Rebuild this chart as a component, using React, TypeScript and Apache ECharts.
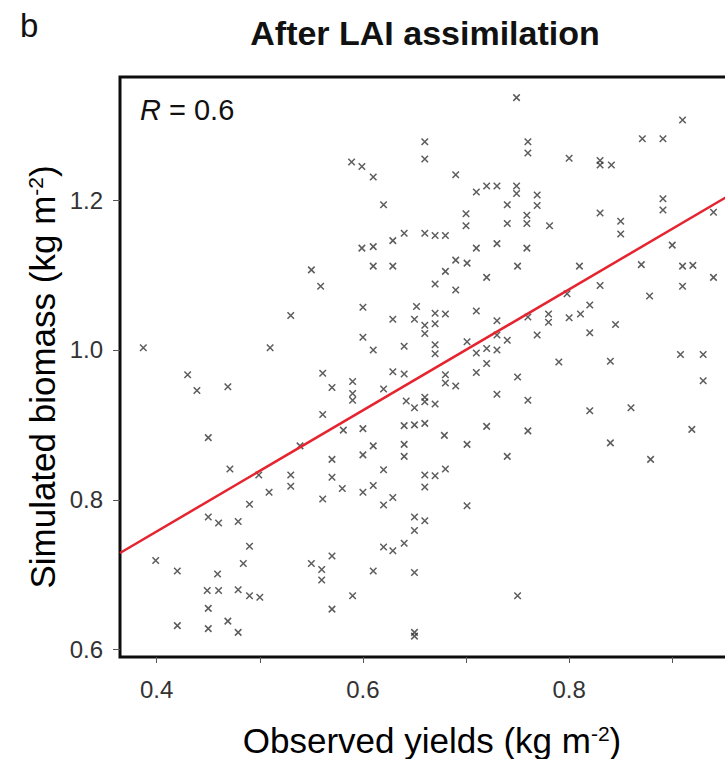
import React, { useEffect, useRef } from "react";
import * as echarts from "echarts";

const OBSERVED_YIELDS = [
  0.550, 0.559, 0.530, 0.387, 0.510,
  0.749, 0.660, 0.660, 0.760, 0.760,
  0.589, 0.599, 0.610, 0.690, 0.710,
  0.720, 0.730, 0.749, 0.749, 0.620,
  0.740, 0.700, 0.700, 0.740, 0.759,
  0.759, 0.629, 0.640, 0.660, 0.670,
  0.680, 0.599, 0.610, 0.710, 0.730,
  0.759, 0.610, 0.629, 0.690, 0.701,
  0.750, 0.680, 0.720, 0.670, 0.690,
  0.600, 0.652, 0.670, 0.680, 0.710,
  0.629, 0.650, 0.660, 0.670, 0.730,
  0.660, 0.600, 0.610, 0.640, 0.670,
  0.670, 0.701, 0.730, 0.740, 0.710,
  0.720, 0.730, 0.720,
  0.910, 0.871, 0.891, 0.800, 0.830,
  0.830, 0.841, 0.769, 0.769, 0.891,
  0.891, 0.940, 0.830, 0.781, 0.850,
  0.850, 0.900, 0.810, 0.870, 0.910,
  0.920, 0.940, 0.910, 0.830, 0.878,
  0.820, 0.800, 0.811, 0.780, 0.780,
  0.820, 0.845, 0.769, 0.790, 0.840,
  0.908, 0.930,
  0.430, 0.439, 0.469, 0.561, 0.561,
  0.450, 0.471, 0.530, 0.530, 0.509,
  0.490, 0.561, 0.450, 0.460, 0.479,
  0.490, 0.399, 0.420, 0.484, 0.459,
  0.550, 0.560, 0.560, 0.449, 0.460,
  0.479, 0.490, 0.500, 0.450, 0.420,
  0.450, 0.469, 0.479,
  0.629, 0.640, 0.680, 0.680, 0.690,
  0.710, 0.750, 0.730, 0.760, 0.570,
  0.590, 0.590, 0.590, 0.620, 0.642,
  0.650, 0.660, 0.660, 0.670, 0.581,
  0.600, 0.640, 0.650, 0.660, 0.679,
  0.701, 0.720, 0.760, 0.740, 0.610,
  0.600, 0.640, 0.640, 0.570, 0.620,
  0.570, 0.580, 0.600, 0.610, 0.660,
  0.670, 0.680, 0.660, 0.620, 0.629,
  0.701, 0.650, 0.660, 0.650, 0.620,
  0.629, 0.640, 0.570, 0.610, 0.650,
  0.590, 0.570, 0.750, 0.650, 0.650,
  0.930, 0.820, 0.860, 0.919, 0.840,
  0.879, 0.539, 0.499, 0.798, 0.760,
];

const SIMULATED_BIOMASS = [
  1.107, 1.085, 1.046, 1.003, 1.003,
  1.337, 1.278, 1.255, 1.278, 1.263,
  1.251, 1.245, 1.231, 1.234, 1.211,
  1.219, 1.219, 1.219, 1.209, 1.194,
  1.194, 1.182, 1.166, 1.169, 1.180,
  1.169, 1.146, 1.156, 1.156, 1.153,
  1.153, 1.136, 1.138, 1.136, 1.142,
  1.136, 1.112, 1.112, 1.120, 1.116,
  1.112, 1.105, 1.097, 1.088, 1.080,
  1.057, 1.058, 1.049, 1.048, 1.052,
  1.041, 1.041, 1.033, 1.035, 1.039,
  1.022, 1.017, 1.000, 1.005, 1.007,
  0.995, 1.011, 1.020, 1.013, 0.996,
  1.002, 1.000, 0.982,
  1.307, 1.282, 1.282, 1.256, 1.253,
  1.247, 1.247, 1.207, 1.193, 1.202,
  1.187, 1.184, 1.183, 1.166, 1.172,
  1.155, 1.140, 1.112, 1.114, 1.112,
  1.113, 1.097, 1.085, 1.086, 1.072,
  1.060, 1.043, 1.048, 1.048, 1.037,
  1.023, 1.034, 1.020, 0.984, 0.985,
  0.994, 0.994,
  0.967, 0.946, 0.951, 0.969, 0.914,
  0.883, 0.841, 0.833, 0.818, 0.810,
  0.794, 0.801, 0.777, 0.769, 0.771,
  0.738, 0.719, 0.705, 0.715, 0.701,
  0.715, 0.707, 0.693, 0.679, 0.679,
  0.680, 0.672, 0.670, 0.655, 0.632,
  0.628, 0.638, 0.623,
  0.971, 0.968, 0.967, 0.956, 0.952,
  0.970, 0.964, 0.941, 0.933, 0.950,
  0.958, 0.942, 0.933, 0.948, 0.932,
  0.923, 0.937, 0.931, 0.928, 0.893,
  0.895, 0.899, 0.900, 0.902, 0.886,
  0.874, 0.898, 0.892, 0.858, 0.872,
  0.860, 0.874, 0.858, 0.854, 0.840,
  0.830, 0.815, 0.810, 0.819, 0.833,
  0.832, 0.841, 0.817, 0.793, 0.803,
  0.792, 0.777, 0.772, 0.759, 0.737,
  0.732, 0.742, 0.725, 0.705, 0.703,
  0.672, 0.654, 0.672, 0.623, 0.618,
  0.959, 0.919, 0.923, 0.894, 0.876,
  0.854, 0.872, 0.833, 1.075, 1.044,
];

// Fitted regression line (end points)
const FIT_X = [0.3644, 0.9696];
const FIT_Y = [0.729, 1.218];

const X_TICKS = [0.4, 0.5, 0.6, 0.7, 0.8, 0.9];
const X_LABELS = [0.4, 0.6, 0.8];
const Y_TICKS = [0.6, 0.8, 1.0, 1.2];
const Y_LABELS = [0.6, 0.8, 1.0, 1.2];

const X_RANGE = [0.3644, 0.9696];
const Y_RANGE = [0.5901, 1.3645];

const PANEL_LETTER = "b";
const TITLE = "After LAI assimilation";
const R_LABEL_ITALIC = "R";
const R_LABEL_REST = " = 0.6";
const X_NAME = ["Observed yields (kg m", "-2", ")"];
const Y_NAME = ["Simulated biomass (kg m", "-2", ")"];

const FONT = "'Liberation Sans', Arial, Helvetica, sans-serif";

export default function App() {
  const ref = useRef<HTMLDivElement>(null);

  useEffect(() => {
    if (!ref.current) return;
    const chart = echarts.init(ref.current, undefined, { renderer: "svg" });
    const points = OBSERVED_YIELDS.map((x, i) => [x, SIMULATED_BIOMASS[i]]);
    const fit = FIT_X.map((x, i) => [x, FIT_Y[i]]);

    const nameRich = {
      n: { fontSize: 35, fontFamily: FONT, color: "#1a1a1a" },
      s: { fontSize: 21, fontFamily: FONT, color: "#1a1a1a", verticalAlign: "top", padding: [0, 0, 14, 0] },
    };

    chart.setOption({
      animation: false,
      backgroundColor: "#ffffff",
      grid: {
        left: 120,
        top: 77,
        width: 624,
        height: 580,
        show: true,
        borderColor: "#0d0d0d",
        borderWidth: 3,
        backgroundColor: "#ffffff",
        containLabel: false,
      },
      xAxis: {
        type: "value",
        min: X_RANGE[0],
        max: X_RANGE[1],
        splitLine: { show: false },
        axisLine: { show: false },
        axisTick: {
          show: true,
          length: 6,
          customValues: X_TICKS,
          lineStyle: { color: "#555", width: 1 },
        },
        axisLabel: {
          customValues: X_LABELS,
          formatter: (v: number) => v.toFixed(1),
          fontSize: 24,
          fontFamily: FONT,
          color: "#333",
          margin: 20,
        },
      },
      yAxis: {
        type: "value",
        min: Y_RANGE[0],
        max: Y_RANGE[1],
        splitLine: { show: false },
        axisLine: { show: false },
        axisTick: {
          show: true,
          length: 7,
          customValues: Y_TICKS,
          lineStyle: { color: "#555", width: 1 },
        },
        axisLabel: {
          customValues: Y_LABELS,
          formatter: (v: number) => v.toFixed(1),
          fontSize: 24,
          fontFamily: FONT,
          color: "#333",
          margin: 17,
        },
      },
      series: [
        {
          type: "scatter",
          data: points,
          symbol: "path://M0,0L10,10M10,0L0,10",
          symbolSize: 6.5,
          itemStyle: {
            color: "rgba(0,0,0,0)",
            borderColor: "#333",
            borderWidth: 1.5,
          },
          z: 2,
        },
        {
          type: "line",
          data: fit,
          showSymbol: false,
          symbol: "none",
          lineStyle: { color: "#e5242f", width: 2.5 },
          z: 3,
        },
      ],
      graphic: [
        {
          type: "text",
          left: 20,
          top: 9,
          style: { text: PANEL_LETTER, fontSize: 33, fontFamily: FONT, fill: "#111" },
        },
        {
          type: "text",
          x: 425,
          y: 33,
          style: {
            text: TITLE,
            fontSize: 34,
            fontWeight: "bold",
            fontFamily: FONT,
            fill: "#111",
            align: "center",
            verticalAlign: "middle",
          },
        },
        {
          type: "text",
          x: 140,
          y: 110,
          style: {
            text: `{i|${R_LABEL_ITALIC}}{n|${R_LABEL_REST}}`,
            align: "left",
            verticalAlign: "middle",
            rich: {
              i: { fontSize: 29, fontStyle: "italic", fontFamily: FONT, fill: "#111", color: "#111" },
              n: { fontSize: 29, fontFamily: FONT, fill: "#111", color: "#111" },
            },
          },
        },
        {
          type: "text",
          x: 432,
          y: 740,
          style: {
            text: `{n|${X_NAME[0]}}{s|${X_NAME[1]}}{n|${X_NAME[2]}}`,
            align: "center",
            verticalAlign: "middle",
            rich: nameRich,
          },
        },
        {
          type: "text",
          x: 42,
          y: 377,
          rotation: Math.PI / 2,
          style: {
            text: `{n|${Y_NAME[0]}}{s|${Y_NAME[1]}}{n|${Y_NAME[2]}}`,
            align: "center",
            verticalAlign: "middle",
            rich: nameRich,
          },
        },
      ],
    });

    return () => chart.dispose();
  }, []);

  return (
    <div
      style={{
        position: "fixed",
        left: 0,
        top: 0,
        width: 725,
        height: 759,
        overflow: "hidden",
        background: "#fff",
      }}
    >
      <div ref={ref} style={{ width: 760, height: 759 }} />
    </div>
  );
}
